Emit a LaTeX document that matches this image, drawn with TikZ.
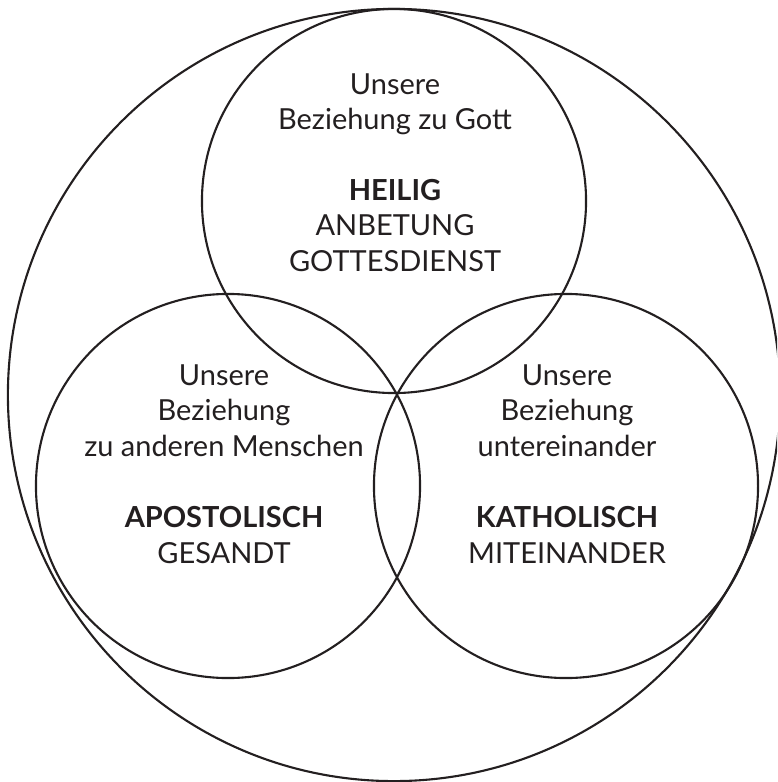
\documentclass[tikz,border=0pt]{standalone}
\usepackage{fontspec}
\setmainfont{Lato}
\usepackage{xcolor}
\definecolor{ink}{HTML}{231F20}

\begin{document}
\begin{tikzpicture}[
x=0.025cm, y=-0.025cm,
ring/.style={draw=ink,
circle,
line width=1.5pt,
inner sep=0pt},
small/.style={ring, minimum size=9.6cm},
words/.style={text=ink,
align=center,
anchor=base,
inner sep=0pt,
font=\fontsize{20.6}{24.9}\selectfont}
]

\clip (0,0) rectangle (777,782);

\node[ring, minimum size=19.3cm] (whole) at (394,395) {};
\node[small] (top) at (394,201) {};
\node[small] (left) at (228,486) {};
\node[small] (right) at (566,486) {};

% base anchor sits on the last line
\node[words] (gottrel) at (395,130) {Unsere\\Beziehung zu Gott};
\node[words] (heilig) at (395,271) {\textbf{HEILIG}\\ANBETUNG\\GOTTESDIENST};

\node[words] (menschrel) at (224,456) {Unsere\\Beziehung\\zu anderen Menschen};
\node[words] (apost) at (224,563) {\textbf{APOSTOLISCH}\\GESANDT};

\node[words] (unterrel) at (567,456) {Unsere\\Beziehung\\untereinander};
\node[words] (kathol) at (567,563) {\textbf{KATHOLISCH}\\MITEINANDER};

\end{tikzpicture}
\end{document}
